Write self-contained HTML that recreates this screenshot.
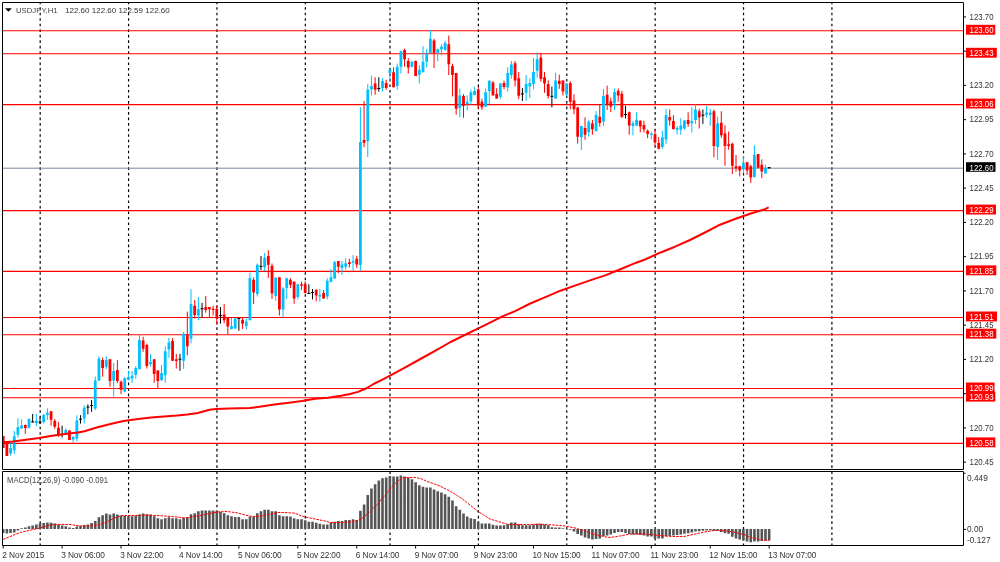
<!DOCTYPE html><html><head><meta charset="utf-8"><style>html,body{margin:0;padding:0;background:#fff;width:1000px;height:562px;overflow:hidden}svg{display:block}text{font-family:"Liberation Sans",Arial,sans-serif}</style></head><body>
<svg width="1000" height="562" viewBox="0 0 1000 562">
<rect width="1000" height="562" fill="#fff"/>
<defs><clipPath id="cm"><rect x="3" y="3" width="960" height="466"/></clipPath><clipPath id="cd"><rect x="3" y="472" width="960" height="73"/></clipPath></defs>
<path d="M40.18 3V469M128.56 3V469M216.94 3V469M305.31 3V469M390.01 3V469M478.39 3V469M566.77 3V469M655.15 3V469M743.53 3V469M831.91 3V469" stroke="#000" stroke-width="1.2" stroke-dasharray="2.6 2.92" stroke-dashoffset="1.32" fill="none"/>
<path d="M40.18 472V545M128.56 472V545M216.94 472V545M305.31 472V545M390.01 472V545M478.39 472V545M566.77 472V545M655.15 472V545M743.53 472V545M831.91 472V545" stroke="#000" stroke-width="1.2" stroke-dasharray="2.6 2.95" stroke-dashoffset="0.6" fill="none"/>
<path d="M3 30.82H963M3 53.82H963M3 104.62H963M3 210.62H963M3 271.42H963M3 317.52H963M3 334.72H963M3 388.52H963M3 397.72H963M3 443.42H963" stroke="#ff0000" stroke-width="1.1" fill="none"/>
<path d="M3 168.2H963" stroke="#778899" stroke-width="1" fill="none"/>
<g clip-path="url(#cm)">
<path d="M10.57 442.20V455.60M14.25 431.00V454.00M17.93 418.20V437.40M21.61 419.20V428.80M28.98 418.40V428.60M36.34 413.90V426.20M43.71 413.90V423.50M47.39 408.30V419.80M65.80 428.30V434.70M73.17 435.80V442.70M76.85 415.30V441.30M84.22 405.30V423.60M95.26 376.70V410.00M98.95 356.20V381.00M106.31 356.20V369.20M113.68 363.00V396.60M124.72 377.30V392.30M128.41 370.50V380.40M132.09 371.10V383.00M135.77 366.10V378.60M139.45 334.40V369.20M150.50 353.90V366.40M161.55 365.00V381.00M165.23 346.30V382.80M168.91 338.00V357.90M183.64 331.80V369.00M191.01 289.00V343.40M198.37 297.10V320.30M231.51 318.00V329.50M235.20 318.00V329.00M246.25 318.50V329.50M249.93 272.70V320.30M257.29 263.50V296.40M264.66 253.10V271.00M275.70 277.30V300.80M283.07 287.10V317.50M286.75 277.80V298.90M297.80 283.70V299.40M319.89 289.00V301.80M327.26 278.30V299.40M330.94 269.10V282.40M334.62 261.00V278.90M341.99 261.00V274.90M345.67 258.10V269.70M353.04 255.20V270.80M360.40 107.20V270.80M367.77 84.00V157.00M371.45 75.50V95.40M382.50 78.00V91.60M389.86 69.80V81.00M397.23 63.60V89.80M400.91 50.50V73.60M411.96 61.10V67.40M419.32 64.90V83.50M423.00 46.20V72.30M426.69 48.70V67.40M430.37 30.00V53.00M437.74 48.70V61.10M441.42 44.30V55.50M445.10 40.60V50.50M459.83 88.50V117.30M467.19 95.40V110.40M470.88 89.50V104.50M474.56 86.90V95.40M485.61 88.50V107.20M489.29 80.00V104.00M500.34 83.00V99.10M507.70 67.30V91.60M511.38 61.00V78.90M526.12 74.90V100.90M529.80 78.30V98.00M533.48 58.10V89.30M537.16 52.30V77.70M555.58 72.80V98.70M566.62 83.00V96.60M581.35 125.50V150.00M588.72 119.90V136.70M596.08 111.10V131.70M603.45 89.00V126.00M614.50 88.50V109.90M632.91 120.80V135.30M636.59 112.20V126.00M651.32 131.80V139.30M662.37 130.80V148.80M666.05 108.90V144.10M677.10 125.60V134.30M680.78 118.10V134.90M684.46 119.90V129.70M691.83 107.10V132.60M695.51 104.20V123.90M706.56 106.00V117.60M710.24 108.80V126.00M717.61 116.80V159.80M743.38 156.40V173.50M754.43 145.20V177.50M765.48 164.70V173.50" stroke="#00bfff" stroke-width="1" fill="none"/>
<path d="M3.20 436.00V448.00M6.88 441.00V456.00M25.29 424.60V433.70M51.07 411.20V425.60M54.76 419.20V428.80M58.44 421.90V436.90M69.48 430.40V440.00M102.63 357.40V376.70M109.99 359.30V386.70M117.36 359.90V383.00M121.04 380.40V394.10M143.13 336.80V351.80M146.82 343.70V368.60M154.18 359.20V382.80M157.86 370.40V388.10M172.59 338.00V360.80M176.28 353.90V368.60M187.32 311.60V355.30M194.69 300.00V318.50M205.74 296.00V312.70M209.42 307.00V317.40M213.10 305.80V315.60M216.78 305.80V324.30M224.15 304.00V323.20M227.83 318.00V334.10M242.56 318.00V329.00M253.61 277.40V304.00M268.34 250.20V278.00M272.02 263.50V298.90M279.39 277.30V315.50M290.44 278.30V288.10M294.12 281.30V303.80M301.48 281.70V290.00M305.17 281.30V293.50M316.21 289.00V301.30M323.58 290.00V298.90M338.31 261.00V273.20M349.36 258.70V267.40M356.72 255.80V268.00M364.08 101.00V147.20M375.13 77.30V94.80M386.18 79.80V89.80M393.55 67.40V87.30M404.59 48.70V66.70M408.27 58.00V73.60M415.64 60.50V76.00M434.05 38.70V68.00M448.78 35.60V75.00M452.46 63.60V96.50M456.15 73.00V114.60M463.51 94.30V117.80M478.24 86.90V108.80M481.93 98.60V109.80M492.97 81.00V95.40M496.66 88.20V98.60M504.02 80.60V89.30M515.07 61.00V86.40M518.75 72.00V99.10M540.85 52.90V81.80M544.53 71.90V92.80M548.21 80.40V98.60M559.26 74.60V88.80M562.94 80.40V95.50M570.31 81.20V109.30M573.99 94.30V114.20M577.67 106.80V143.50M585.04 117.40V139.80M592.40 119.90V134.80M599.77 104.30V126.70M607.13 85.60V109.90M610.81 97.70V112.20M618.18 88.50V101.80M621.86 90.80V118.00M629.23 111.60V134.70M640.27 120.30V132.40M643.96 120.80V132.40M647.64 129.50V138.20M655.00 129.10V146.30M658.69 137.20V149.30M669.73 109.50V125.60M673.42 115.20V129.70M688.15 112.30V126.80M699.19 108.90V128.50M713.92 109.60V157.40M721.29 111.20V137.80M724.97 125.20V165.70M728.65 131.50V149.60M732.34 142.70V174.00M736.02 155.00V171.60M739.70 165.70V176.50M747.07 161.80V175.00M750.75 164.70V182.80M758.11 154.00V168.20M761.80 159.40V178.00" stroke="#ff0000" stroke-width="1" fill="none"/>
<path d="M32.66 413.90V422.60M40.03 416.60V424.00M62.12 425.60V437.40M80.53 415.20V423.60M87.90 404.30V414.30M91.58 400.00V411.80M179.96 353.90V370.80M202.06 302.90V317.40M220.47 307.00V323.70M238.88 318.00V330.70M260.98 256.00V269.90M308.85 284.20V293.50M312.53 289.00V299.40M378.81 77.30V91.60M522.43 88.20V100.90M551.89 86.60V107.40M625.54 105.80V118.50M702.88 109.50V123.90M769.16 167.60V169.00" stroke="#000" stroke-width="1" fill="none"/>
<path d="M9.17 448.10h2.8v5.30h-2.8zM12.85 436.30h2.8v13.90h-2.8zM16.53 427.20h2.8v7.50h-2.8zM20.21 425.40h2.8v3.20h-2.8zM27.58 419.00h2.8v8.80h-2.8zM34.94 420.80h2.8v2.20h-2.8zM42.31 415.00h2.8v6.90h-2.8zM45.99 412.80h2.8v2.20h-2.8zM64.40 429.90h2.8v4.10h-2.8zM71.77 436.90h2.8v2.60h-2.8zM75.45 420.50h2.8v17.90h-2.8zM82.81 407.80h2.8v10.80h-2.8zM93.86 380.40h2.8v28.00h-2.8zM97.55 358.60h2.8v21.80h-2.8zM104.91 359.90h2.8v6.80h-2.8zM112.28 371.10h2.8v9.30h-2.8zM123.32 378.00h2.8v13.60h-2.8zM127.00 377.10h2.8v2.70h-2.8zM130.69 375.80h2.8v2.80h-2.8zM134.37 368.00h2.8v6.80h-2.8zM138.05 340.00h2.8v29.20h-2.8zM149.10 361.90h2.8v2.20h-2.8zM160.15 373.00h2.8v7.10h-2.8zM163.83 351.20h2.8v24.00h-2.8zM167.51 342.50h2.8v6.90h-2.8zM182.24 334.10h2.8v26.70h-2.8zM189.61 304.00h2.8v34.80h-2.8zM196.97 309.30h2.8v6.30h-2.8zM230.11 326.00h2.8v3.00h-2.8zM233.80 318.50h2.8v9.90h-2.8zM244.84 321.40h2.8v4.60h-2.8zM248.53 278.00h2.8v42.30h-2.8zM255.89 264.70h2.8v29.40h-2.8zM263.26 257.70h2.8v9.80h-2.8zM274.31 277.80h2.8v18.10h-2.8zM281.67 288.60h2.8v21.00h-2.8zM285.35 278.30h2.8v9.80h-2.8zM296.40 284.20h2.8v12.70h-2.8zM318.50 295.00h2.8v1.40h-2.8zM325.86 280.80h2.8v15.60h-2.8zM329.54 277.20h2.8v4.60h-2.8zM333.23 262.20h2.8v16.20h-2.8zM340.59 264.50h2.8v3.50h-2.8zM344.27 263.30h2.8v3.50h-2.8zM351.64 261.00h2.8v1.70h-2.8zM359.00 141.90h2.8v123.20h-2.8zM366.37 89.40h2.8v51.60h-2.8zM370.05 86.00h2.8v3.20h-2.8zM381.10 81.00h2.8v6.90h-2.8zM388.46 69.80h2.8v3.20h-2.8zM395.83 66.70h2.8v19.30h-2.8zM399.51 51.20h2.8v15.50h-2.8zM410.56 61.80h2.8v4.90h-2.8zM417.92 69.80h2.8v5.00h-2.8zM421.61 61.80h2.8v10.50h-2.8zM425.29 54.30h2.8v7.50h-2.8zM428.97 38.70h2.8v14.30h-2.8zM436.34 49.30h2.8v3.70h-2.8zM440.02 46.80h2.8v2.50h-2.8zM443.70 43.10h2.8v6.80h-2.8zM458.43 95.40h2.8v12.30h-2.8zM465.80 101.80h2.8v2.20h-2.8zM469.48 92.20h2.8v9.10h-2.8zM473.16 91.10h2.8v3.80h-2.8zM484.21 92.20h2.8v14.40h-2.8zM487.89 81.00h2.8v10.10h-2.8zM498.94 83.50h2.8v13.30h-2.8zM506.30 73.10h2.8v14.50h-2.8zM509.99 64.50h2.8v10.40h-2.8zM524.72 84.10h2.8v8.70h-2.8zM528.40 83.00h2.8v3.40h-2.8zM532.08 72.00h2.8v12.10h-2.8zM535.76 59.20h2.8v11.60h-2.8zM554.18 80.40h2.8v18.20h-2.8zM565.22 83.50h2.8v11.10h-2.8zM579.95 126.00h2.8v11.30h-2.8zM587.32 121.70h2.8v10.60h-2.8zM594.68 114.90h2.8v16.20h-2.8zM602.05 96.00h2.8v25.40h-2.8zM613.10 92.00h2.8v11.50h-2.8zM631.51 123.20h2.8v2.80h-2.8zM635.19 119.70h2.8v5.80h-2.8zM649.92 133.70h2.8v1.20h-2.8zM660.97 137.20h2.8v9.80h-2.8zM664.65 115.20h2.8v24.30h-2.8zM675.70 128.00h2.8v1.70h-2.8zM679.38 125.60h2.8v4.10h-2.8zM683.06 120.40h2.8v8.10h-2.8zM690.43 121.00h2.8v2.30h-2.8zM694.11 109.50h2.8v10.40h-2.8zM705.16 112.40h2.8v2.40h-2.8zM708.84 112.40h2.8v2.40h-2.8zM716.21 123.20h2.8v23.90h-2.8zM741.98 163.30h2.8v5.80h-2.8zM753.03 155.00h2.8v22.00h-2.8zM764.08 167.70h2.8v5.80h-2.8z" fill="#00bfff"/>
<path d="M1.80 436.00h2.8v12.00h-2.8zM5.48 441.00h2.8v15.00h-2.8zM23.89 425.10h2.8v2.90h-2.8zM49.67 411.20h2.8v8.60h-2.8zM53.36 420.80h2.8v5.90h-2.8zM57.04 427.80h2.8v7.50h-2.8zM68.08 430.40h2.8v9.60h-2.8zM101.23 359.90h2.8v8.10h-2.8zM108.59 359.30h2.8v21.70h-2.8zM115.96 369.90h2.8v11.10h-2.8zM119.64 381.70h2.8v8.10h-2.8zM141.73 340.60h2.8v8.10h-2.8zM145.42 345.00h2.8v21.00h-2.8zM152.78 359.20h2.8v14.70h-2.8zM156.46 370.40h2.8v10.60h-2.8zM171.19 341.00h2.8v19.80h-2.8zM174.88 359.20h2.8v1.80h-2.8zM185.92 334.70h2.8v11.60h-2.8zM193.29 305.80h2.8v9.20h-2.8zM204.34 307.00h2.8v2.90h-2.8zM208.02 307.00h2.8v2.30h-2.8zM211.70 308.70h2.8v1.20h-2.8zM215.38 308.70h2.8v9.80h-2.8zM222.75 314.50h2.8v5.80h-2.8zM226.43 318.00h2.8v8.60h-2.8zM241.16 319.70h2.8v4.00h-2.8zM252.21 279.70h2.8v12.70h-2.8zM266.94 256.00h2.8v8.70h-2.8zM270.62 265.80h2.8v27.70h-2.8zM277.99 277.30h2.8v32.30h-2.8zM289.04 279.80h2.8v4.90h-2.8zM292.72 281.70h2.8v16.70h-2.8zM300.08 284.20h2.8v1.50h-2.8zM303.77 284.20h2.8v8.80h-2.8zM314.81 290.00h2.8v5.40h-2.8zM322.18 293.00h2.8v5.40h-2.8zM336.91 261.00h2.8v5.80h-2.8zM347.96 262.20h2.8v1.70h-2.8zM355.32 258.70h2.8v5.80h-2.8zM362.69 140.00h2.8v2.70h-2.8zM373.73 83.50h2.8v6.30h-2.8zM384.78 83.00h2.8v4.90h-2.8zM392.15 72.30h2.8v15.00h-2.8zM403.19 49.90h2.8v9.40h-2.8zM406.88 61.10h2.8v6.30h-2.8zM414.24 61.10h2.8v14.90h-2.8zM432.65 40.60h2.8v12.40h-2.8zM447.38 44.30h2.8v19.90h-2.8zM451.06 66.00h2.8v9.10h-2.8zM454.75 73.00h2.8v35.80h-2.8zM462.11 96.00h2.8v10.10h-2.8zM476.84 89.50h2.8v16.10h-2.8zM480.53 101.80h2.8v5.40h-2.8zM491.57 82.60h2.8v12.80h-2.8zM495.26 93.90h2.8v4.70h-2.8zM502.62 83.00h2.8v4.00h-2.8zM513.67 63.30h2.8v17.30h-2.8zM517.35 78.30h2.8v17.40h-2.8zM539.45 57.50h2.8v21.40h-2.8zM543.13 77.20h2.8v6.30h-2.8zM546.81 83.90h2.8v12.00h-2.8zM557.86 80.80h2.8v3.10h-2.8zM561.54 80.40h2.8v11.10h-2.8zM568.91 83.00h2.8v18.80h-2.8zM572.59 100.50h2.8v8.80h-2.8zM576.27 107.40h2.8v29.30h-2.8zM583.64 128.00h2.8v6.80h-2.8zM591.00 123.60h2.8v5.60h-2.8zM598.37 116.70h2.8v6.30h-2.8zM605.73 94.80h2.8v9.20h-2.8zM609.41 101.20h2.8v5.20h-2.8zM616.78 90.80h2.8v4.60h-2.8zM620.46 93.70h2.8v23.10h-2.8zM627.83 112.20h2.8v13.30h-2.8zM638.87 120.80h2.8v5.80h-2.8zM642.56 124.90h2.8v4.60h-2.8zM646.24 130.70h2.8v3.40h-2.8zM653.60 134.30h2.8v8.10h-2.8zM657.29 143.00h2.8v5.80h-2.8zM668.33 117.00h2.8v3.40h-2.8zM672.02 121.00h2.8v8.10h-2.8zM686.75 119.90h2.8v4.00h-2.8zM697.79 111.20h2.8v6.30h-2.8zM712.52 111.20h2.8v34.90h-2.8zM719.89 122.80h2.8v12.40h-2.8zM723.57 133.40h2.8v12.70h-2.8zM727.25 144.20h2.8v1.90h-2.8zM730.94 143.70h2.8v22.00h-2.8zM734.62 166.20h2.8v2.00h-2.8zM738.30 166.20h2.8v4.40h-2.8zM745.67 162.30h2.8v8.30h-2.8zM749.35 166.20h2.8v11.30h-2.8zM756.71 154.00h2.8v13.70h-2.8zM760.40 164.70h2.8v6.90h-2.8z" fill="#ff0000"/>
<path d="M31.16 421.90H34.16M38.53 422.20H41.53M60.62 434.40H63.62M79.03 419.30H82.03M86.40 407.10H89.40M90.08 405.60H93.08M178.46 359.20H181.46M200.56 308.70H203.56M218.97 315.60H221.97M237.38 318.50H240.38M259.48 266.40H262.48M307.35 293.50H310.35M311.03 292.50H314.03M377.31 88.50H380.31M520.93 93.90H523.93M550.39 96.30H553.39M624.04 114.50H627.04M701.38 115.20H704.38M767.66 167.60H770.66" stroke="#000" stroke-width="1" fill="none"/>
<polyline points="3.3,442.3 13,441.6 26,439.7 39,438 52,435.8 65,434 78,432.5 84.5,431.2 97.5,427.3 110.5,424 123.5,421 138,419 151,417.5 164,416.5 177,415.6 187.4,414.6 197.8,413 209.5,409.7 216,409 229,408.4 250,408.1 263,406.2 276,404.2 289,402.7 302,401 315,398.8 328,397.7 341,395.8 350,394 358,391.9 367,388 373.5,384 380,380.8 390.1,375.6 405.3,367.3 420.4,359 435.5,350.7 450.6,342 465.8,334.5 480.9,327.2 496,319.7 503.6,315.9 515.1,311.1 530.3,303.5 545.4,297.2 560.5,290.7 575.6,285.4 590.8,280.1 605.9,275.1 621,269 636.2,262.7 645,259.5 660,252.7 675,246.7 690,240 705,232.5 720,224.7 735,219 750,213.7 765,209.2 768.7,207.3" stroke="#ff0000" stroke-width="2" fill="none" stroke-linejoin="round"/>
</g>
<g clip-path="url(#cd)">
<path d="M1.90 529.00h2.6v4.00h-2.6zM5.58 529.00h2.6v4.50h-2.6zM9.27 529.00h2.6v4.00h-2.6zM12.95 529.00h2.6v3.50h-2.6zM16.63 529.00h2.6v1.50h-2.6zM20.31 528.20h2.6v0.80h-2.6zM23.99 527.50h2.6v1.50h-2.6zM27.68 526.20h2.6v2.80h-2.6zM31.36 525.50h2.6v3.50h-2.6zM35.04 524.50h2.6v4.50h-2.6zM38.73 523.50h2.6v5.50h-2.6zM42.41 523.00h2.6v6.00h-2.6zM46.09 522.50h2.6v6.50h-2.6zM49.77 522.80h2.6v6.20h-2.6zM53.46 523.50h2.6v5.50h-2.6zM57.14 524.50h2.6v4.50h-2.6zM60.82 525.50h2.6v3.50h-2.6zM64.50 526.20h2.6v2.80h-2.6zM68.19 527.50h2.6v1.50h-2.6zM71.87 528.00h2.6v1.00h-2.6zM75.55 526.50h2.6v2.50h-2.6zM79.23 526.00h2.6v3.00h-2.6zM82.92 525.00h2.6v4.00h-2.6zM86.60 524.50h2.6v4.50h-2.6zM90.28 523.00h2.6v6.00h-2.6zM93.96 521.00h2.6v8.00h-2.6zM97.65 517.20h2.6v11.80h-2.6zM101.33 515.20h2.6v13.80h-2.6zM105.01 513.40h2.6v15.60h-2.6zM108.69 514.40h2.6v14.60h-2.6zM112.38 513.40h2.6v15.60h-2.6zM116.06 514.40h2.6v14.60h-2.6zM119.74 515.40h2.6v13.60h-2.6zM123.42 516.00h2.6v13.00h-2.6zM127.11 516.20h2.6v12.80h-2.6zM130.79 516.20h2.6v12.80h-2.6zM134.47 515.70h2.6v13.30h-2.6zM138.15 514.40h2.6v14.60h-2.6zM141.83 513.40h2.6v15.60h-2.6zM145.52 514.20h2.6v14.80h-2.6zM149.20 514.40h2.6v14.60h-2.6zM152.88 516.20h2.6v12.80h-2.6zM156.56 518.20h2.6v10.80h-2.6zM160.25 519.20h2.6v9.80h-2.6zM163.93 518.20h2.6v10.80h-2.6zM167.61 517.20h2.6v11.80h-2.6zM171.29 518.20h2.6v10.80h-2.6zM174.98 518.20h2.6v10.80h-2.6zM178.66 519.20h2.6v9.80h-2.6zM182.34 517.70h2.6v11.30h-2.6zM186.02 517.20h2.6v11.80h-2.6zM189.71 514.30h2.6v14.70h-2.6zM193.39 513.20h2.6v15.80h-2.6zM197.07 511.20h2.6v17.80h-2.6zM200.75 510.40h2.6v18.60h-2.6zM204.44 510.40h2.6v18.60h-2.6zM208.12 510.40h2.6v18.60h-2.6zM211.80 510.40h2.6v18.60h-2.6zM215.48 510.70h2.6v18.30h-2.6zM219.17 511.70h2.6v17.30h-2.6zM222.85 513.20h2.6v15.80h-2.6zM226.53 515.20h2.6v13.80h-2.6zM230.21 516.20h2.6v12.80h-2.6zM233.90 517.00h2.6v12.00h-2.6zM237.58 517.00h2.6v12.00h-2.6zM241.26 519.20h2.6v9.80h-2.6zM244.94 519.20h2.6v9.80h-2.6zM248.63 516.70h2.6v12.30h-2.6zM252.31 516.70h2.6v12.30h-2.6zM255.99 513.20h2.6v15.80h-2.6zM259.68 511.20h2.6v17.80h-2.6zM263.36 509.70h2.6v19.30h-2.6zM267.04 509.70h2.6v19.30h-2.6zM270.72 511.20h2.6v17.80h-2.6zM274.40 511.20h2.6v17.80h-2.6zM278.09 515.20h2.6v13.80h-2.6zM281.77 516.20h2.6v12.80h-2.6zM285.45 516.30h2.6v12.70h-2.6zM289.13 516.40h2.6v12.60h-2.6zM292.82 518.20h2.6v10.80h-2.6zM296.50 519.20h2.6v9.80h-2.6zM300.18 519.20h2.6v9.80h-2.6zM303.87 520.20h2.6v8.80h-2.6zM307.55 521.70h2.6v7.30h-2.6zM311.23 521.70h2.6v7.30h-2.6zM314.91 522.70h2.6v6.30h-2.6zM318.59 523.70h2.6v5.30h-2.6zM322.28 524.40h2.6v4.60h-2.6zM325.96 524.40h2.6v4.60h-2.6zM329.64 522.70h2.6v6.30h-2.6zM333.32 521.70h2.6v7.30h-2.6zM337.01 521.00h2.6v8.00h-2.6zM340.69 521.00h2.6v8.00h-2.6zM344.37 520.00h2.6v9.00h-2.6zM348.06 520.00h2.6v9.00h-2.6zM351.74 519.20h2.6v9.80h-2.6zM355.42 520.00h2.6v9.00h-2.6zM359.10 510.80h2.6v18.20h-2.6zM362.78 504.40h2.6v24.60h-2.6zM366.47 495.10h2.6v33.90h-2.6zM370.15 488.40h2.6v40.60h-2.6zM373.83 484.30h2.6v44.70h-2.6zM377.51 480.40h2.6v48.60h-2.6zM381.20 478.30h2.6v50.70h-2.6zM384.88 477.40h2.6v51.60h-2.6zM388.56 475.90h2.6v53.10h-2.6zM392.25 476.40h2.6v52.60h-2.6zM395.93 476.40h2.6v52.60h-2.6zM399.61 475.60h2.6v53.40h-2.6zM403.29 476.40h2.6v52.60h-2.6zM406.97 477.40h2.6v51.60h-2.6zM410.66 479.20h2.6v49.80h-2.6zM414.34 482.20h2.6v46.80h-2.6zM418.02 485.20h2.6v43.80h-2.6zM421.70 486.70h2.6v42.30h-2.6zM425.39 487.60h2.6v41.40h-2.6zM429.07 487.60h2.6v41.40h-2.6zM432.75 489.40h2.6v39.60h-2.6zM436.44 491.20h2.6v37.80h-2.6zM440.12 492.40h2.6v36.60h-2.6zM443.80 494.20h2.6v34.80h-2.6zM447.48 496.80h2.6v32.20h-2.6zM451.16 500.40h2.6v28.60h-2.6zM454.85 506.20h2.6v22.80h-2.6zM458.53 509.80h2.6v19.20h-2.6zM462.21 513.40h2.6v15.60h-2.6zM465.89 516.40h2.6v12.60h-2.6zM469.58 518.20h2.6v10.80h-2.6zM473.26 519.00h2.6v10.00h-2.6zM476.94 521.70h2.6v7.30h-2.6zM480.62 523.50h2.6v5.50h-2.6zM484.31 523.50h2.6v5.50h-2.6zM487.99 523.50h2.6v5.50h-2.6zM491.67 524.70h2.6v4.30h-2.6zM495.36 525.40h2.6v3.60h-2.6zM499.04 525.40h2.6v3.60h-2.6zM502.72 525.20h2.6v3.80h-2.6zM506.40 524.20h2.6v4.80h-2.6zM510.08 522.40h2.6v6.60h-2.6zM513.77 522.40h2.6v6.60h-2.6zM517.45 524.20h2.6v4.80h-2.6zM521.13 525.20h2.6v3.80h-2.6zM524.82 525.20h2.6v3.80h-2.6zM528.50 525.20h2.6v3.80h-2.6zM532.18 524.40h2.6v4.60h-2.6zM535.86 523.70h2.6v5.30h-2.6zM539.55 523.70h2.6v5.30h-2.6zM543.23 524.40h2.6v4.60h-2.6zM546.91 525.20h2.6v3.80h-2.6zM550.59 527.20h2.6v1.80h-2.6zM554.28 527.40h2.6v1.60h-2.6zM557.96 527.40h2.6v1.60h-2.6zM561.64 528.20h2.6v0.80h-2.6zM565.32 529.00h2.6v0.30h-2.6zM569.01 529.00h2.6v0.80h-2.6zM572.69 529.00h2.6v2.50h-2.6zM576.37 529.00h2.6v5.00h-2.6zM580.05 529.00h2.6v6.50h-2.6zM583.74 529.00h2.6v8.50h-2.6zM587.42 529.00h2.6v9.50h-2.6zM591.10 529.00h2.6v10.50h-2.6zM594.78 529.00h2.6v10.00h-2.6zM598.47 529.00h2.6v9.50h-2.6zM602.15 529.00h2.6v7.00h-2.6zM605.83 529.00h2.6v6.50h-2.6zM609.51 529.00h2.6v5.50h-2.6zM613.20 529.00h2.6v4.00h-2.6zM616.88 529.00h2.6v3.00h-2.6zM620.56 529.00h2.6v3.00h-2.6zM624.24 529.00h2.6v4.00h-2.6zM627.93 529.00h2.6v5.00h-2.6zM631.61 529.00h2.6v5.50h-2.6zM635.29 529.00h2.6v5.50h-2.6zM638.97 529.00h2.6v6.00h-2.6zM642.66 529.00h2.6v6.50h-2.6zM646.34 529.00h2.6v7.50h-2.6zM650.02 529.00h2.6v7.50h-2.6zM653.70 529.00h2.6v9.50h-2.6zM657.39 529.00h2.6v9.50h-2.6zM661.07 529.00h2.6v9.60h-2.6zM664.75 529.00h2.6v7.20h-2.6zM668.43 529.00h2.6v7.00h-2.6zM672.12 529.00h2.6v6.60h-2.6zM675.80 529.00h2.6v6.00h-2.6zM679.48 529.00h2.6v5.40h-2.6zM683.16 529.00h2.6v4.80h-2.6zM686.85 529.00h2.6v4.20h-2.6zM690.53 529.00h2.6v3.60h-2.6zM694.21 529.00h2.6v2.40h-2.6zM697.89 529.00h2.6v2.20h-2.6zM701.58 529.00h2.6v1.80h-2.6zM705.26 529.00h2.6v1.40h-2.6zM708.94 529.00h2.6v1.20h-2.6zM712.62 529.00h2.6v1.80h-2.6zM716.31 529.00h2.6v1.80h-2.6zM719.99 529.00h2.6v3.00h-2.6zM723.67 529.00h2.6v4.20h-2.6zM727.35 529.00h2.6v4.80h-2.6zM731.04 529.00h2.6v7.80h-2.6zM734.72 529.00h2.6v9.50h-2.6zM738.40 529.00h2.6v10.60h-2.6zM742.08 529.00h2.6v11.50h-2.6zM745.77 529.00h2.6v12.50h-2.6zM749.45 529.00h2.6v13.20h-2.6zM753.13 529.00h2.6v12.50h-2.6zM756.81 529.00h2.6v12.50h-2.6zM760.50 529.00h2.6v12.00h-2.6zM764.18 529.00h2.6v11.80h-2.6zM767.86 529.00h2.6v11.50h-2.6z" fill="#555"/>
<polyline points="3,539.5 20,532.5 40,528 50,525 55,524.3 70,524.5 80,526 90,526 100,524.5 105,522.8 115,517.8 122,515.5 135,515.5 145,515 155,515.5 165,516 175,516.8 185,518 190,517.2 200,515.5 210,513.5 217,512 227,511.5 237,512.8 247,515.5 252,516.5 260,516.2 270,514.3 277,512.5 285,512.5 295,513.2 302,516.2 305,517 315,519 325,521 330,522.5 345,522.5 355,521.2 361,519.2 367,514.4 379,502.4 391,488 397,481.4 403,477.8 415,477.4 421,478.6 427,481.4 439,485.6 451,491.6 463,499.4 470,505 478,511.5 490,519 500,522 508,524.5 520,524.5 530,524.5 540,524.2 550,524.8 560,525.5 565,526 575,528 585,531 595,534.5 605,536.8 610,537.5 620,536 630,534 645,534 655,535 660,535.6 672,536.5 684,536.5 696,533.8 708,531.4 714,530.4 726,530.8 732,531.7 740.4,533.8 744,534.4 750.8,537.5 756,538.6 762,540.3 769,540.4" stroke="#ff0000" stroke-width="1" stroke-dasharray="2.6 1" fill="none"/>
</g>
<path d="M2.5 2.5H963.5V469.5H2.5Z M2.5 471.5H963.5V545.5H2.5Z" stroke="#000" stroke-width="1" fill="none"/>
<path d="M963.5 16.90h2.5M963.5 51.15h2.5M963.5 85.40h2.5M963.5 119.65h2.5M963.5 153.90h2.5M963.5 188.15h2.5M963.5 222.40h2.5M963.5 256.65h2.5M963.5 290.90h2.5M963.5 325.15h2.5M963.5 359.40h2.5M963.5 393.65h2.5M963.5 427.90h2.5M963.5 462.15h2.5" stroke="#000" stroke-width="1"/>
<text x="969.6" y="19.60" font-size="8.3" fill="#333" textLength="24" lengthAdjust="spacingAndGlyphs">123.70</text>
<text x="969.6" y="88.10" font-size="8.3" fill="#333" textLength="24" lengthAdjust="spacingAndGlyphs">123.20</text>
<text x="969.6" y="122.35" font-size="8.3" fill="#333" textLength="24" lengthAdjust="spacingAndGlyphs">122.95</text>
<text x="969.6" y="156.60" font-size="8.3" fill="#333" textLength="24" lengthAdjust="spacingAndGlyphs">122.70</text>
<text x="969.6" y="190.85" font-size="8.3" fill="#333" textLength="24" lengthAdjust="spacingAndGlyphs">122.45</text>
<text x="969.6" y="225.10" font-size="8.3" fill="#333" textLength="24" lengthAdjust="spacingAndGlyphs">122.20</text>
<text x="969.6" y="259.35" font-size="8.3" fill="#333" textLength="24" lengthAdjust="spacingAndGlyphs">121.95</text>
<text x="969.6" y="293.60" font-size="8.3" fill="#333" textLength="24" lengthAdjust="spacingAndGlyphs">121.70</text>
<text x="969.6" y="327.85" font-size="8.3" fill="#333" textLength="24" lengthAdjust="spacingAndGlyphs">121.45</text>
<text x="969.6" y="362.10" font-size="8.3" fill="#333" textLength="24" lengthAdjust="spacingAndGlyphs">121.20</text>
<text x="969.6" y="396.35" font-size="8.3" fill="#333" textLength="24" lengthAdjust="spacingAndGlyphs">120.95</text>
<text x="969.6" y="430.60" font-size="8.3" fill="#333" textLength="24" lengthAdjust="spacingAndGlyphs">120.70</text>
<text x="969.6" y="464.85" font-size="8.3" fill="#333" textLength="24" lengthAdjust="spacingAndGlyphs">120.45</text>
<path d="M963.5 529.4h2.5M963.5 473.3h2" stroke="#000" stroke-width="1"/>
<text x="967" y="480.8" font-size="8.3" fill="#333">0.449</text>
<text x="967" y="531.9" font-size="8.3" fill="#333">0.00</text>
<text x="967" y="542.7" font-size="8.3" fill="#333">-0.127</text>
<rect x="966" y="24.80" width="29.2" height="9.9" fill="#ff0000"/>
<text x="969.6" y="33.20" font-size="8.3" fill="#fff" textLength="24" lengthAdjust="spacingAndGlyphs">123.60</text>
<rect x="966" y="47.80" width="30.8" height="9.9" fill="#ff0000"/>
<text x="969.6" y="56.20" font-size="8.3" fill="#fff" textLength="24" lengthAdjust="spacingAndGlyphs">123.43</text>
<rect x="966" y="98.60" width="29.2" height="9.9" fill="#ff0000"/>
<text x="969.6" y="107.00" font-size="8.3" fill="#fff" textLength="24" lengthAdjust="spacingAndGlyphs">123.06</text>
<rect x="966" y="204.60" width="30" height="9.9" fill="#ff0000"/>
<text x="969.6" y="213.00" font-size="8.3" fill="#fff" textLength="24" lengthAdjust="spacingAndGlyphs">122.29</text>
<rect x="966" y="265.40" width="30.3" height="9.9" fill="#ff0000"/>
<text x="969.6" y="273.80" font-size="8.3" fill="#fff" textLength="24" lengthAdjust="spacingAndGlyphs">121.85</text>
<rect x="966" y="311.50" width="31" height="9.9" fill="#ff0000"/>
<text x="969.6" y="319.90" font-size="8.3" fill="#fff" textLength="24" lengthAdjust="spacingAndGlyphs">121.51</text>
<rect x="966" y="328.70" width="30.3" height="9.9" fill="#ff0000"/>
<text x="969.6" y="337.10" font-size="8.3" fill="#fff" textLength="24" lengthAdjust="spacingAndGlyphs">121.38</text>
<rect x="966" y="382.50" width="28.5" height="9.9" fill="#ff0000"/>
<text x="969.6" y="390.90" font-size="8.3" fill="#fff" textLength="24" lengthAdjust="spacingAndGlyphs">120.99</text>
<rect x="966" y="391.70" width="29.3" height="9.9" fill="#ff0000"/>
<text x="969.6" y="400.10" font-size="8.3" fill="#fff" textLength="24" lengthAdjust="spacingAndGlyphs">120.93</text>
<rect x="966" y="437.40" width="29.3" height="9.9" fill="#ff0000"/>
<text x="969.6" y="445.80" font-size="8.3" fill="#fff" textLength="24" lengthAdjust="spacingAndGlyphs">120.58</text>
<rect x="966" y="162.2" width="29.5" height="9.6" fill="#000"/>
<text x="969.6" y="170.5" font-size="8.3" fill="#fff" textLength="24" lengthAdjust="spacingAndGlyphs">122.60</text>
<text x="2.30" y="557.5" font-size="8.3" fill="#333" textLength="42" lengthAdjust="spacing">2 Nov 2015</text>
<text x="61.22" y="557.5" font-size="8.3" fill="#333" textLength="43.6" lengthAdjust="spacing">3 Nov 06:00</text>
<text x="120.14" y="557.5" font-size="8.3" fill="#333" textLength="43.6" lengthAdjust="spacing">3 Nov 22:00</text>
<text x="179.06" y="557.5" font-size="8.3" fill="#333" textLength="43.6" lengthAdjust="spacing">4 Nov 14:00</text>
<text x="237.98" y="557.5" font-size="8.3" fill="#333" textLength="43.6" lengthAdjust="spacing">5 Nov 06:00</text>
<text x="296.90" y="557.5" font-size="8.3" fill="#333" textLength="43.6" lengthAdjust="spacing">5 Nov 22:00</text>
<text x="355.82" y="557.5" font-size="8.3" fill="#333" textLength="43.6" lengthAdjust="spacing">6 Nov 14:00</text>
<text x="414.74" y="557.5" font-size="8.3" fill="#333" textLength="43.6" lengthAdjust="spacing">9 Nov 07:00</text>
<text x="473.66" y="557.5" font-size="8.3" fill="#333" textLength="43.6" lengthAdjust="spacing">9 Nov 23:00</text>
<text x="532.58" y="557.5" font-size="8.3" fill="#333" textLength="48" lengthAdjust="spacing">10 Nov 15:00</text>
<text x="591.50" y="557.5" font-size="8.3" fill="#333" textLength="48" lengthAdjust="spacing">11 Nov 07:00</text>
<text x="650.42" y="557.5" font-size="8.3" fill="#333" textLength="48" lengthAdjust="spacing">11 Nov 23:00</text>
<text x="709.34" y="557.5" font-size="8.3" fill="#333" textLength="48" lengthAdjust="spacing">12 Nov 15:00</text>
<text x="768.26" y="557.5" font-size="8.3" fill="#333" textLength="48" lengthAdjust="spacing">13 Nov 07:00</text>
<path d="M3.20 545.5v3M62.12 545.5v3M121.04 545.5v3M179.96 545.5v3M238.88 545.5v3M297.80 545.5v3M356.72 545.5v3M415.64 545.5v3M474.56 545.5v3M533.48 545.5v3M592.40 545.5v3M651.32 545.5v3M710.24 545.5v3M769.16 545.5v3" stroke="#000" stroke-width="1"/>
<path d="M5 8.2h6.8l-3.4 3.6z" fill="#000"/>
<text x="16" y="12.7" font-size="8" fill="#444" textLength="41.6" lengthAdjust="spacingAndGlyphs">USDJPY,H1</text>
<text x="65" y="12.8" font-size="8.1" fill="#333" textLength="104.8" lengthAdjust="spacingAndGlyphs">122.60 122.60 122.59 122.60</text>
<text x="7" y="483.1" font-size="8.3" fill="#444" textLength="101" lengthAdjust="spacingAndGlyphs">MACD(12,26,9) -0.090 -0.091</text>
</svg></body></html>
